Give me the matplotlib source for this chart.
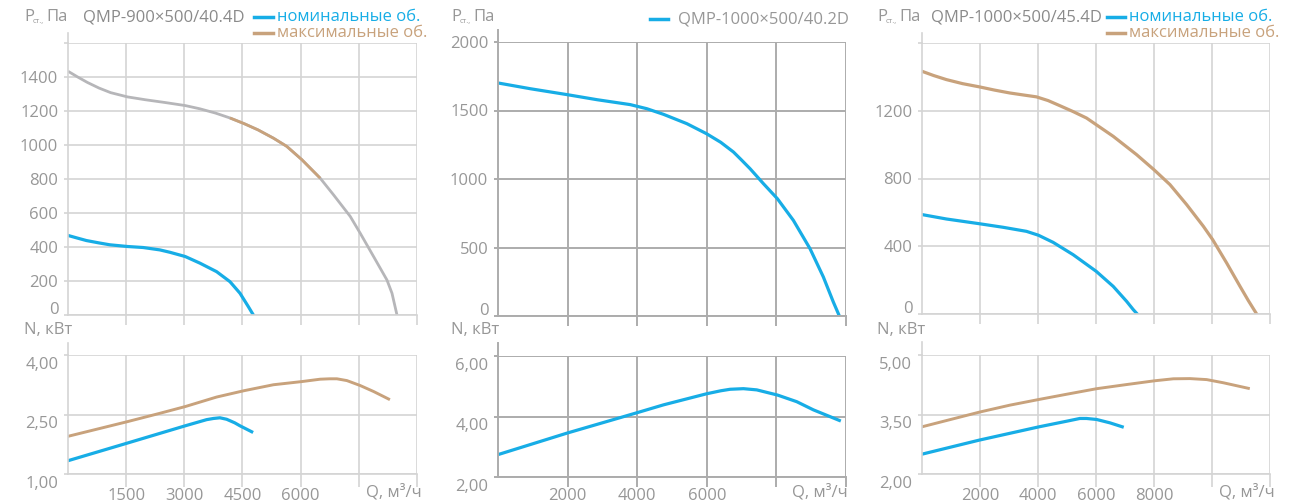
import numpy as np
import matplotlib.pyplot as plt
from matplotlib.transforms import ScaledTranslation

plt.rcParams["font.family"] = ["Open Sans", "DejaVu Sans"]

BLUE = "#17ade6"
TAN = "#c8a27c"
GREY_CURVE = "#b6b6b9"
TXT = "#979797"

# ---- QMP-900x500/40.4D ----
p1_q_max = [0, 250, 500, 800, 1100, 1533, 2000, 2500, 3023, 3400, 3800, 4177, 4539, 4900,
            5300, 5641, 6029, 6503, 6847, 7278, 7536, 7880, 8225, 8355, 8484]
p1_p_max = [1434, 1400, 1368, 1335, 1308, 1283, 1266, 1250, 1232, 1213, 1188, 1159, 1126,
            1089, 1040, 992, 914, 805, 707, 580, 481, 344, 206, 128, 0]
p1_q_nom = [0, 250, 474, 800, 1077, 1533, 1938, 2368, 2627, 3023, 3402, 3832, 4177, 4435,
            4651, 4780]
p1_p_nom = [468, 452, 438, 424, 413, 403, 397, 383, 369, 344, 305, 255, 196, 128, 49, 0]
p1_nq_max = [0, 1533, 2368, 3023, 3832, 4539, 5297, 6029, 6503, 6750, 6934, 7192, 7536,
             7880, 8268]
p1_n_max = [1.95, 2.32, 2.53, 2.70, 2.94, 3.10, 3.25, 3.33, 3.39, 3.40, 3.40, 3.355, 3.23,
            3.08, 2.89]
p1_nq_nom = [0, 1533, 3023, 3574, 3750, 3918, 4091, 4300, 4435, 4737]
p1_n_nom = [1.335, 1.78, 2.215, 2.37, 2.40, 2.417, 2.38, 2.29, 2.215, 2.065]

# ---- QMP-1000x500/40.2D ----
p2_q = [0, 928, 1981, 2842, 3799, 4278, 4756, 5426, 5990, 6400, 6766, 7000, 7244, 7627,
        8029, 8488, 8967, 9349, 9636, 9809]
p2_p = [1701, 1659, 1616, 1579, 1543, 1513, 1472, 1404, 1331, 1268, 1197, 1138, 1075, 966,
        856, 698, 491, 285, 102, 0]
p2_nq = [0, 1981, 4010, 4756, 5990, 6400, 6670, 7053, 7435, 8029, 8584, 9062, 9809]
p2_n = [2.74, 3.45, 4.13, 4.385, 4.75, 4.85, 4.90, 4.92, 4.88, 4.71, 4.49, 4.22, 3.87]

# ---- QMP-1000x500/45.4D ----
p3_q_max = [0, 400, 840, 1400, 1979, 2500, 3026, 3500, 3947, 4350, 4752, 5200, 5673, 6594,
            7399, 7998, 8550, 9125, 9701, 10023, 10506, 10967, 11250, 11540]
p3_p_max = [1433, 1408, 1384, 1360, 1341, 1322, 1305, 1293, 1282, 1260, 1230, 1196, 1157,
            1049, 941, 852, 764, 646, 518, 439, 301, 163, 80, 0]
p3_q_nom = [0, 840, 1979, 2796, 3602, 4016, 4522, 5213, 6007, 6594, 7054, 7284, 7422]
p3_p_nom = [587, 561, 533, 512, 488, 465, 423, 350, 252, 163, 75, 26, 0]
p3_nq_max = [0, 1979, 3026, 4039, 4983, 6018, 7054, 8021, 8665, 9240, 9816, 10391, 11254]
p3_n_max = [3.19, 3.56, 3.735, 3.88, 4.01, 4.15, 4.255, 4.35, 4.40, 4.405, 4.38, 4.30, 4.16]
p3_nq_nom = [0, 1979, 4039, 4983, 5443, 5673, 6018, 6479, 6904]
p3_n_nom = [2.50, 2.855, 3.19, 3.33, 3.40, 3.40, 3.375, 3.29, 3.19]

W, H = 1307, 503
fig = plt.figure(figsize=(W / 100, H / 100), dpi=100)


def add_ax(x0, x1, ytop, ybot):
    return fig.add_axes([x0 / W, 1 - ybot / H, (x1 - x0) / W, (ybot - ytop) / H])


def style(ax, xmax, xstep, xlabels, ylo, yhi, ystep, ylabels, gcol, glw, ext_px,
          tick_len, lower):
    ax.set_xlim(0, xmax)
    ax.set_ylim(ylo, yhi)
    ax.set_xticks(np.arange(xstep, xmax + 1, xstep))
    ax.set_xticklabels(xlabels)
    ax.set_yticks(np.arange(ylo, yhi + ystep / 2, ystep))
    ax.set_yticklabels(ylabels)
    ax.set_axisbelow(True)
    ax.grid(True, color=gcol, lw=glw)
    for s in ["top", "right"]:
        ax.spines[s].set_visible(False)
    for s in ["left", "bottom"]:
        ax.spines[s].set_color(gcol)
        ax.spines[s].set_linewidth(glw)
    ax.tick_params(axis="x", length=tick_len, width=glw, color=gcol,
                   labelsize=12, labelcolor=TXT, pad=1)
    ax.tick_params(axis="y", length=3, width=glw, color=gcol,
                   labelsize=12, labelcolor=TXT, pad=4)
    h = ax.get_position().height * H
    ax.plot([0, 0], [1, 1 + ext_px / h], transform=ax.transAxes, color=gcol,
            lw=glw, clip_on=False)
    if lower:
        for lab in ax.get_yticklabels():
            lab.set_transform(lab.get_transform() + ScaledTranslation(0, -8 / 100, fig.dpi_scale_trans))
    else:
        lab = ax.get_yticklabels()[0]
        lab.set_transform(lab.get_transform() + ScaledTranslation(0, 7 / 100, fig.dpi_scale_trans))


def ftext(x, y, s, **kw):
    kw.setdefault("size", 12)
    kw.setdefault("color", TXT)
    kw.setdefault("va", "center")
    fig.text(x / W, 1 - y / H, s, **kw)


def p_label(x):
    ftext(x, 17, "P")
    ftext(x + 9, 21, "ст.,", size=5.5)
    ftext(x + 22, 17, "Па")


LIGHT = "#d4d4d4"
DARK = "#acacac"

# panel 1
a1 = add_ax(68, 417, 43, 315)
style(a1, 9000, 1500, [], 0, 1600, 200,
      ["0", "200", "400", "600", "800", "1000", "1200", "1400", ""], LIGHT, 1.2, 10, 7, False)
a1.plot(p1_q_max, p1_p_max, color=GREY_CURVE, lw=2.0, solid_capstyle="butt")
q_arr = np.array(p1_q_max)
seg = (q_arr >= 4177) & (q_arr <= 6503)
a1.plot(q_arr[seg], np.array(p1_p_max)[seg], color=TAN, lw=2.0, solid_capstyle="butt")
a1.plot(p1_q_nom, p1_p_nom, color=BLUE, lw=2.3)

b1 = add_ax(68, 417, 355, 474)
style(b1, 9000, 1500, ["1500", "3000", "4500", "6000", "", ""], 1, 4, 1.5,
      ["1,00", "2,50", "4,00"], LIGHT, 1.2, 12, 9, True)
b1.plot(p1_nq_max, p1_n_max, color=TAN, lw=2.1)
b1.plot(p1_nq_nom, p1_n_nom, color=BLUE, lw=2.3)

p_label(24)
ftext(83, 17, "QMP-900×500/40.4D", color="#8a8a8a")
fig.add_artist(plt.Line2D([254 / W, 273 / W], [1 - 17 / H] * 2, color=BLUE, lw=2.5))
fig.add_artist(plt.Line2D([254 / W, 273 / W], [1 - 33 / H] * 2, color=TAN, lw=2.5))
ftext(277, 17, "номинальные об.", color=BLUE)
ftext(277, 33, "максимальные об.", color=TAN)
ftext(24, 330, "N, кВт")
ftext(422, 492, "Q, м³/ч", ha="right")

# panel 2
a2 = add_ax(498, 846, 42, 316)
style(a2, 10000, 2000, [], 0, 2000, 500,
      ["0", "500", "1000", "1500", "2000"], DARK, 1.4, 12, 7, False)
a2.plot(p2_q, p2_p, color=BLUE, lw=2.3)

b2 = add_ax(498, 846, 356, 477)
style(b2, 10000, 2000, ["2000", "4000", "6000", "", ""], 2, 6, 2,
      ["2,00", "4,00", "6,00"], DARK, 1.4, 13, 7, True)
b2.plot(p2_nq, p2_n, color=BLUE, lw=2.3)

p_label(451)
fig.add_artist(plt.Line2D([650 / W, 668 / W], [1 - 19 / H] * 2, color=BLUE, lw=2.5))
ftext(678, 19, "QMP-1000×500/40.2D")
ftext(451, 330, "N, кВт")
ftext(848, 492, "Q, м³/ч", ha="right")

# panel 3
a3 = add_ax(922, 1270, 43, 314)
style(a3, 12000, 2000, [], 0, 1600, 400,
      ["0", "400", "800", "1200", ""], LIGHT, 1.2, 10, 7, False)
a3.plot(p3_q_max, p3_p_max, color=TAN, lw=2.3)
a3.plot(p3_q_nom, p3_p_nom, color=BLUE, lw=2.3)

b3 = add_ax(922, 1270, 355, 474)
style(b3, 12000, 2000, ["2000", "4000", "6000", "8000", "", ""], 2, 5, 1.5,
      ["2,00", "3,50", "5,00"], LIGHT, 1.2, 13, 9, True)
b3.plot(p3_nq_max, p3_n_max, color=TAN, lw=2.1)
b3.plot(p3_nq_nom, p3_n_nom, color=BLUE, lw=2.3)

p_label(877)
ftext(931, 17, "QMP-1000×500/45.4D", color="#8a8a8a")
fig.add_artist(plt.Line2D([1107 / W, 1125 / W], [1 - 17 / H] * 2, color=BLUE, lw=2.5))
fig.add_artist(plt.Line2D([1107 / W, 1125 / W], [1 - 33 / H] * 2, color=TAN, lw=2.5))
ftext(1129, 17, "номинальные об.", color=BLUE)
ftext(1129, 33, "максимальные об.", color=TAN)
ftext(877, 330, "N, кВт")
ftext(1275, 492, "Q, м³/ч", ha="right")

fig.savefig("out.png", dpi=100)
